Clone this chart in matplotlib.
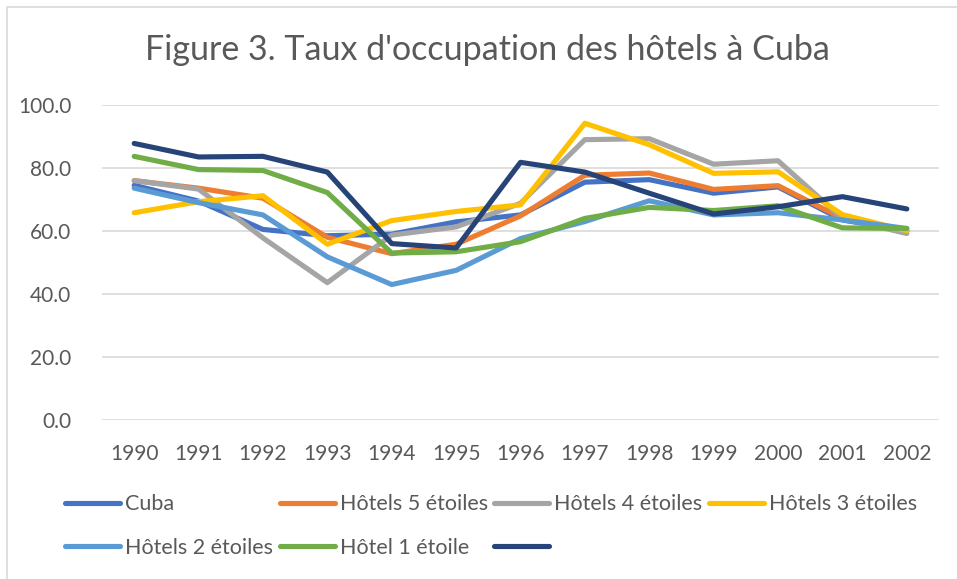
import matplotlib
matplotlib.use("Agg")
import matplotlib.pyplot as plt
from matplotlib.patches import Rectangle

# Données
annees = [1990, 1991, 1992, 1993, 1994, 1995, 1996, 1997, 1998, 1999, 2000, 2001, 2002]
cuba = [74.5, 69.5, 60.5, 58.5, 59.0, 62.9, 65.1, 75.5, 76.3, 72.0, 74.0, 63.5, 60.0]
hotels_5 = [76.0, 73.6, 70.4, 58.0, 52.8, 55.8, 64.8, 77.7, 78.4, 73.2, 74.4, 64.0, 60.0]
hotels_4 = [76.0, 73.3, 57.8, 43.6, 58.7, 61.3, 68.8, 89.0, 89.3, 81.2, 82.3, 64.0, 59.2]
hotels_3 = [65.8, 69.3, 71.2, 55.8, 63.3, 66.2, 68.3, 94.2, 87.4, 78.3, 78.8, 65.2, 60.1]
hotels_2 = [73.6, 69.0, 65.1, 51.8, 43.0, 47.5, 57.6, 63.0, 69.6, 65.1, 65.8, 63.5, 60.8]
hotel_1 = [83.7, 79.5, 79.2, 72.2, 53.0, 53.4, 56.6, 64.0, 67.5, 66.5, 68.0, 61.0, 60.8]
sans_nom = [87.8, 83.5, 83.7, 78.7, 56.0, 54.6, 81.8, 78.7, 72.0, 65.4, 67.7, 70.9, 67.0]

series = [
    ("Cuba", cuba, "#4472C4"),
    ("Hôtels 5 étoiles", hotels_5, "#ED7D31"),
    ("Hôtels 4 étoiles", hotels_4, "#A5A5A5"),
    ("Hôtels 3 étoiles", hotels_3, "#FFC000"),
    ("Hôtels 2 étoiles", hotels_2, "#5B9BD5"),
    ("Hôtel 1 étoile", hotel_1, "#70AD47"),
    ("", sans_nom, "#264478"),
]

plt.rcParams['font.family'] = ['Lato', 'DejaVu Sans']
gris_texte = "#595959"

fig = plt.figure(figsize=(9.57, 5.79), dpi=100)
ax = fig.add_axes([102/957, 1 - 420/579, 837/957, 315/579])

x = list(range(len(annees)))
lignes = []
for nom, valeurs, couleur in series:
    ln, = ax.plot(x, valeurs, color=couleur, linewidth=3.7,
                  solid_capstyle='round', solid_joinstyle='round', label=nom)
    lignes.append(ln)

ax.set_xlim(-0.5, len(annees) - 0.5)
ax.set_ylim(0, 100)
ax.set_yticks([0, 20, 40, 60, 80, 100])
ax.set_yticklabels([f"{v:.1f}" for v in [0, 20, 40, 60, 80, 100]])
ax.set_xticks(x)
ax.set_xticklabels([str(a) for a in annees])
ax.tick_params(length=0, labelsize=15, colors=gris_texte)
ax.tick_params(axis='y', pad=22)
ax.tick_params(axis='x', pad=17)
ax.grid(axis='y', color="#D9D9D9", linewidth=1.2)
ax.set_axisbelow(True)
for s in ax.spines.values():
    s.set_visible(False)

fig.text(487/957, 1 - 50/579, "Figure 3. Taux d'occupation des hôtels à Cuba",
         ha='center', va='center', fontsize=24.5, color=gris_texte)

# légende en lignes : matplotlib remplit par colonnes, donc on réordonne
ordre = [0, 4, 1, 5, 2, 6, 3]
leg = fig.legend([lignes[i] for i in ordre], [series[i][0] for i in ordre],
                 ncol=4, loc='center left', bbox_to_anchor=(65/957, 1 - 526/579),
                 frameon=False, fontsize=15.5, handlelength=2.56, handletextpad=0.23,
                 columnspacing=0.3, labelspacing=1.08, borderpad=0, borderaxespad=0)
for t in leg.get_texts():
    t.set_color(gris_texte)

# cadre du graphique
fig.patches.append(Rectangle((7/957, -0.1), 1.2, 1 - 7/579 + 0.1, transform=fig.transFigure,
                             fill=False, edgecolor="#D9D9D9", linewidth=1.2))

fig.savefig("out.png", dpi=100)
